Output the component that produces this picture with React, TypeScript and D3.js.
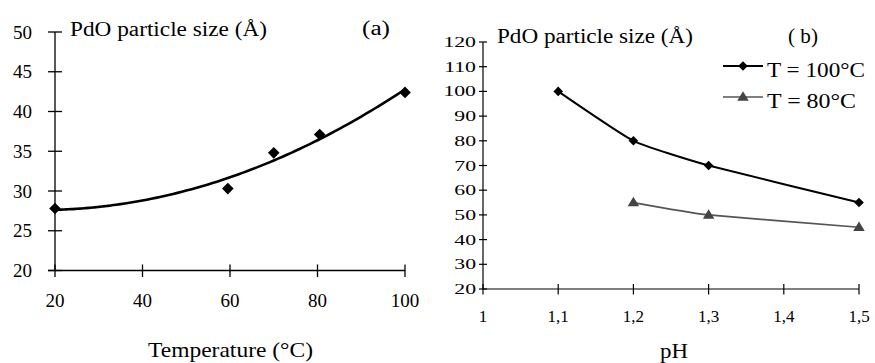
import React from "react";
import * as d3 from "d3";

// Panel (a): particle size vs temperature
const tempC = [20, 59.5, 70, 80.5, 100];
const sizeVsTemp = [27.8, 30.3, 34.8, 37.1, 42.4];
const tempTicks = [20, 40, 60, 80, 100];
const sizeTicksA = [20, 25, 30, 35, 40, 45, 50];

// Panel (b): particle size vs pH
const pH100 = [1.1, 1.2, 1.3, 1.5];
const size100 = [100, 80, 70, 55];
const pH80 = [1.2, 1.3, 1.5];
const size80 = [55, 50, 45];
const phTicks = [1, 1.1, 1.2, 1.3, 1.4, 1.5];
const phTickLabels = ["1", "1,1", "1,2", "1,3", "1,4", "1,5"];
const sizeTicksB = [20, 30, 40, 50, 60, 70, 80, 90, 100, 110, 120];
const seriesNames = ["T = 100°C", "T = 80°C"];

const FONT = "Liberation Serif, Times New Roman, Times, serif";
const GREY = "#555555";

// Least-squares quadratic trendline through the (a) points
function quadFit(xs: number[], ys: number[]) {
  const n = xs.length;
  const s = [0, 0, 0, 0, 0];
  const t = [0, 0, 0];
  for (let i = 0; i < n; i++) {
    const x = xs[i];
    for (let k = 0; k < 5; k++) s[k] += Math.pow(x, k);
    for (let k = 0; k < 3; k++) t[k] += Math.pow(x, k) * ys[i];
  }
  const A = [
    [s[0], s[1], s[2], t[0]],
    [s[1], s[2], s[3], t[1]],
    [s[2], s[3], s[4], t[2]],
  ];
  for (let c = 0; c < 3; c++) {
    for (let r = c + 1; r < 3; r++) {
      const f = A[r][c] / A[c][c];
      for (let k = c; k < 4; k++) A[r][k] -= f * A[c][k];
    }
  }
  const coef = [0, 0, 0];
  for (let r = 2; r >= 0; r--) {
    let v = A[r][3];
    for (let k = r + 1; k < 3; k++) v -= A[r][k] * coef[k];
    coef[r] = v / A[r][r];
  }
  return (x: number) => coef[0] + coef[1] * x + coef[2] * x * x;
}

function diamond(cx: number, cy: number, r: number) {
  return `M${cx},${cy - r}L${cx + r},${cy}L${cx},${cy + r}L${cx - r},${cy}Z`;
}
function triangle(cx: number, cy: number, w: number, h: number) {
  return `M${cx},${cy - h * 0.6}L${cx + w / 2},${cy + h * 0.4}L${cx - w / 2},${cy + h * 0.4}Z`;
}

const txt: React.CSSProperties = { fontFamily: FONT };

export default function App() {
  // scales for (a)
  const xA = d3.scaleLinear().domain([20, 100]).range([55, 405]);
  const yA = d3.scaleLinear().domain([20, 50]).range([270.5, 32]);
  // scales for (b)
  const xB = d3.scaleLinear().domain([1, 1.5]).range([483, 859]);
  const yB = d3.scaleLinear().domain([20, 120]).range([289, 42]);

  const trend = quadFit(tempC, sizeVsTemp);
  const trendPts = d3.range(20, 100.01, 1).map((x) => [x, trend(x)] as [number, number]);
  const trendPath = d3
    .line<[number, number]>()
    .x((d) => xA(d[0]))
    .y((d) => yA(d[1]))
    .curve(d3.curveBasis)(trendPts) as string;

  const smooth = d3
    .line<[number, number]>()
    .x((d) => xB(d[0]))
    .y((d) => yB(d[1]))
    .curve(d3.curveCardinal.tension(0.55));
  const path100 = smooth(pH100.map((p, i) => [p, size100[i]] as [number, number])) as string;
  const path80 = smooth(pH80.map((p, i) => [p, size80[i]] as [number, number])) as string;

  return (
    <svg width={875} height={363} style={{ display: "block", position: "absolute", left: 0, top: 0, fontFamily: FONT }}>
      <rect x={0} y={0} width={875} height={363} fill="#ffffff" />

      {/* ---------- panel (a) ---------- */}
      <g stroke="#000" strokeWidth={1.3} fill="none">
        <line x1={xA(20)} x2={xA(20)} y1={yA(50)} y2={yA(20)} />
        <line x1={48} x2={xA(100)} y1={yA(20)} y2={yA(20)} />
        {sizeTicksA.map((v) => (
          <line key={"ya" + v} x1={48} x2={62} y1={yA(v)} y2={yA(v)} />
        ))}
        {tempTicks.map((v) => (
          <line key={"xa" + v} x1={xA(v)} x2={xA(v)} y1={yA(20) - 6} y2={yA(20) + 6.5} />
        ))}
      </g>
      {sizeTicksA.map((v) => (
        <text key={"yal" + v} style={txt} x={32} y={yA(v) + 6.5} textAnchor="end" fontSize={19} fill="#000">
          {v}
        </text>
      ))}
      {tempTicks.map((v) => (
        <text key={"xal" + v} style={txt} x={xA(v)} y={307} textAnchor="middle" fontSize={19} fill="#000">
          {v}
        </text>
      ))}
      <path d={trendPath} fill="none" stroke="#000" strokeWidth={2.6} />
      {tempC.map((t, i) => (
        <path key={"da" + i} d={diamond(xA(t), yA(sizeVsTemp[i]), 5.8)} fill="#000" />
      ))}
      <text style={txt} x={70} y={36} fontSize={20} textLength={197} lengthAdjust="spacingAndGlyphs" fill="#000">
        PdO particle size (Å)
      </text>
      <text style={txt} x={362} y={35} fontSize={20} textLength={28} lengthAdjust="spacingAndGlyphs" fill="#000">
        (a)
      </text>
      <text style={txt} x={148} y={357} fontSize={21} textLength={165} lengthAdjust="spacingAndGlyphs" fill="#000">
        Temperature (°C)
      </text>

      {/* ---------- panel (b) ---------- */}
      <g stroke="#000" strokeWidth={1.2} fill="none">
        <line x1={xB(1)} x2={xB(1)} y1={yB(120)} y2={yB(20)} />
        <line x1={xB(1)} x2={xB(1.5)} y1={yB(20)} y2={yB(20)} />
        {sizeTicksB.map((v) => (
          <line key={"yb" + v} x1={479} x2={487} y1={yB(v)} y2={yB(v)} />
        ))}
        {phTicks.map((v) => (
          <line key={"xb" + v} x1={xB(v)} x2={xB(v)} y1={yB(20) - 5} y2={yB(20) + 5.5} />
        ))}
      </g>
      {sizeTicksB.map((v) => (
        <text
          key={"ybl" + v}
          style={txt}
          transform={`translate(476,${yB(v) + 5}) scale(1.45,1)`}
          textAnchor="end"
          fontSize={15}
          fill="#000"
        >
          {v}
        </text>
      ))}
      {phTicks.map((v, i) => (
        <text key={"xbl" + v} style={txt} x={xB(v)} y={322} textAnchor="middle" fontSize={17} fill="#000">
          {phTickLabels[i]}
        </text>
      ))}
      <path d={path100} fill="none" stroke="#000" strokeWidth={2} />
      <path d={path80} fill="none" stroke={GREY} strokeWidth={1.7} />
      {pH100.map((p, i) => (
        <path key={"db" + i} d={diamond(xB(p), yB(size100[i]), 4.8)} fill="#000" />
      ))}
      {pH80.map((p, i) => (
        <path key={"tb" + i} d={triangle(xB(p), yB(size80[i]), 11.5, 9.5)} fill="#444444" />
      ))}
      <text style={txt} x={497} y={43} fontSize={20} textLength={196} lengthAdjust="spacingAndGlyphs" fill="#000">
        PdO particle size (Å)
      </text>
      <text style={txt} x={788} y={43} fontSize={20} textLength={30} lengthAdjust="spacingAndGlyphs" fill="#000">
        ( b)
      </text>
      <text style={txt} x={660} y={358} fontSize={20} textLength={28} lengthAdjust="spacingAndGlyphs" fill="#000">
        pH
      </text>

      {/* legend */}
      <line x1={723} x2={763} y1={66} y2={66} stroke="#000" strokeWidth={2} />
      <path d={diamond(743, 66, 4.8)} fill="#000" />
      <text style={txt} x={767} y={77} fontSize={21} textLength={98} lengthAdjust="spacingAndGlyphs" fill="#000">
        {seriesNames[0]}
      </text>
      <line x1={723} x2={763} y1={97} y2={97} stroke={GREY} strokeWidth={1.7} />
      <path d={triangle(743, 97, 11.5, 9.5)} fill="#444444" />
      <text style={txt} x={767} y={108} fontSize={21} textLength={89} lengthAdjust="spacingAndGlyphs" fill="#000">
        {seriesNames[1]}
      </text>
    </svg>
  );
}
